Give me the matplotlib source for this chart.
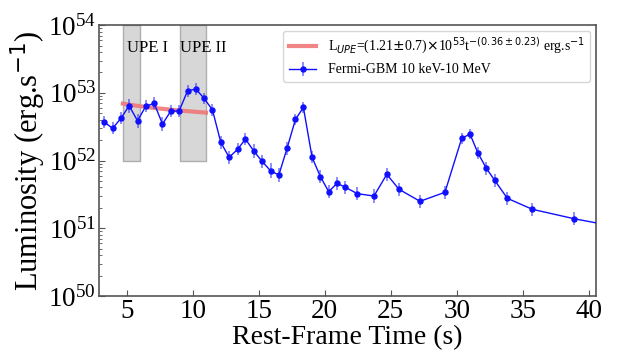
import numpy as np
import matplotlib
matplotlib.use("Agg")
import matplotlib.pyplot as plt

plt.rcParams['font.family'] = ['Liberation Serif', 'DejaVu Serif']

# Data (rest-frame time in s, log10 luminosity)
t = [3.26, 3.92, 4.55, 5.17, 5.81, 6.44, 7.07, 7.70, 8.33, 8.96, 9.60, 10.23,
     10.86, 11.49, 12.12, 12.75, 13.39, 13.99, 14.62, 15.25, 15.89, 16.52,
     17.14, 17.78, 18.38, 19.04, 19.67, 20.30, 20.93, 21.57, 22.48, 23.73,
     24.70, 25.63, 27.22, 29.11, 30.38, 31.01, 31.61, 32.25, 32.88, 33.84,
     35.73, 38.89, 43.0]
logL = [52.573, 52.475, 52.623, 52.809, 52.587, 52.804, 52.844, 52.539, 52.731,
        52.731, 53.030, 53.055, 52.918, 52.745, 52.269, 52.047, 52.165, 52.317,
        52.140, 51.988, 51.849, 51.786, 52.180, 52.608, 52.785, 52.047, 51.761,
        51.540, 51.664, 51.604, 51.510, 51.476, 51.796, 51.575, 51.398, 51.531,
        52.328, 52.391, 52.111, 51.885, 51.708, 51.442, 51.280, 51.141, 50.99]
err_dex = [0.09, 0.09, 0.09, 0.1, 0.1, 0.09, 0.09, 0.1, 0.09, 0.09, 0.09, 0.09,
           0.08, 0.09, 0.1, 0.1, 0.09, 0.09, 0.1, 0.1, 0.11, 0.11, 0.1, 0.08,
           0.08, 0.09, 0.1, 0.1, 0.1, 0.1, 0.1, 0.1, 0.1, 0.1, 0.1, 0.1,
           0.08, 0.08, 0.09, 0.1, 0.1, 0.1, 0.1, 0.1, 0.1]

# UPE intervals
upe_names = ["UPE I", "UPE II"]
upe_ranges = [(4.7, 6.0), (9.0, 11.0)]
upe_text_x = [5.0, 9.05]
upe_text_y = 4.6e53

# Fit parameters
fit_A = 1.21e53
fit_alpha = 0.36
fit_range = (4.7, 11.0)

L = 10 ** np.array(logL)
e = np.array(err_dex)
lo = L - 10 ** (np.array(logL) - e)
hi = 10 ** (np.array(logL) + e) - L

fig = plt.figure(figsize=(6.22, 3.54), dpi=100)
ax = fig.add_axes([0.159, 0.164, 0.799, 0.765])

for (a, b) in upe_ranges:
    ax.fill_between([a, b], 1e52, 1e54, facecolor='#d3d3d3', edgecolor='#a8a8a8',
                    linewidth=1.0, alpha=0.9, zorder=1)
for name, xx in zip(upe_names, upe_text_x):
    ax.text(xx, upe_text_y, name, fontsize=12, ha='left', va='center', zorder=5)

tf = np.linspace(fit_range[0], fit_range[1], 50)
ax.plot(tf, fit_A * tf ** (-fit_alpha), color='#f07878', lw=3, alpha=0.9, zorder=3,
        label=r'L$_{UPE}$=(1.21$\pm$0.7)$\times$10$^{53}$t$^{-(0.36\pm0.23)}$ erg.s$^{-1}$')

ax.errorbar(t, L, yerr=[lo, hi], fmt='o-', color='#1010ff', ms=3.6, lw=1,
            ecolor=(0.2, 0.2, 1.0, 0.6), elinewidth=1.3, capsize=0, zorder=4,
            label='Fermi-GBM 10 keV-10 MeV')

ax.set_yscale('log')
ax.set_xlim(2.88, 40.55)
ax.set_ylim(1e50, 1e54)
ax.set_xticks([5, 10, 15, 20, 25, 30, 35, 40])
ax.tick_params(which='both', direction='in', colors='#555555', labelcolor='black',
               labelsize=19.5)
ax.tick_params(which='major', length=4, pad=2)
ax.tick_params(which='minor', length=2)
for s in ax.spines.values():
    s.set_color('#555555')
    s.set_linewidth(1.2)

ax.set_xlabel('Rest-Frame Time (s)', fontsize=20, labelpad=1)
ax.set_ylabel(r'Luminosity (erg.s$^{-1}$)', fontsize=22, labelpad=0)

ax.legend(loc='upper right', fontsize=10, framealpha=0.8, borderaxespad=0.4)

fig.savefig('out.png', dpi=100)
